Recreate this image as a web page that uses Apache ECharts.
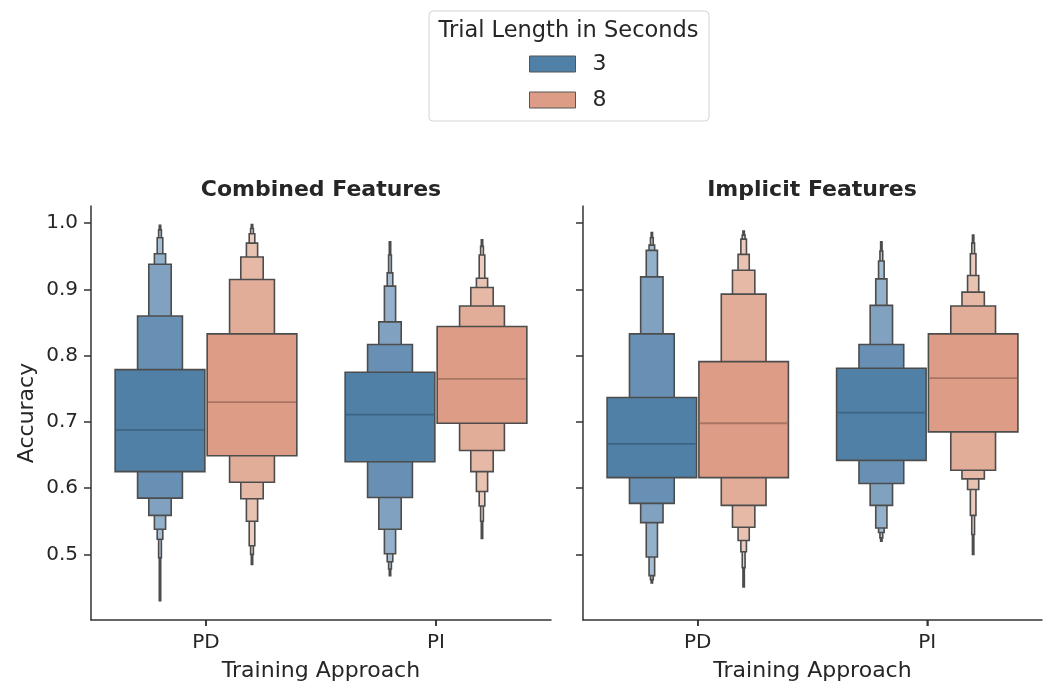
<!DOCTYPE html>
<html>
<head>
<meta charset="utf-8">
<script src="https://cdn.jsdelivr.net/npm/echarts@6/dist/echarts.min.js"></script>
<style>
  html, body { margin: 0; padding: 0; background: #fff; }
  #chart { width: 1046px; height: 684px; }
</style>
</head>
<body>
<div id="chart"></div>
<script>
// categories on the x axis
var categories = ['PD', 'PI'];
var panelTitles = ['Combined Features', 'Implicit Features'];
var trialLengths = ['3', '8'];
var yTicks = [0.5, 0.6, 0.7, 0.8, 0.9, 1.0];

// letter-value boxes: median + nested [low, high] levels, innermost first
var combined3 = [
    {median: 0.688, levels: [[0.625, 0.779], [0.585, 0.860], [0.559, 0.938], [0.538, 0.954], [0.523, 0.978], [0.495, 0.990], [0.430, 0.997]]},
    {median: 0.711, levels: [[0.640, 0.775], [0.586, 0.817], [0.538, 0.851], [0.501, 0.905], [0.489, 0.925], [0.478, 0.952], [0.468, 0.972]]}
];
var combined8 = [
    {median: 0.730, levels: [[0.649, 0.833], [0.609, 0.915], [0.584, 0.949], [0.550, 0.970], [0.513, 0.984], [0.500, 0.992], [0.485, 0.998]]},
    {median: 0.765, levels: [[0.698, 0.844], [0.657, 0.875], [0.625, 0.903], [0.595, 0.917], [0.573, 0.952], [0.550, 0.965], [0.524, 0.975]]}
];
var implicit3 = [
    {median: 0.667, levels: [[0.616, 0.737], [0.577, 0.833], [0.548, 0.919], [0.496, 0.959], [0.468, 0.967], [0.462, 0.978], [0.457, 0.986]]},
    {median: 0.714, levels: [[0.642, 0.781], [0.607, 0.817], [0.574, 0.876], [0.540, 0.916], [0.533, 0.943], [0.525, 0.958], [0.520, 0.972]]}
];
var implicit8 = [
    {median: 0.698, levels: [[0.616, 0.791], [0.574, 0.893], [0.541, 0.929], [0.521, 0.953], [0.504, 0.976], [0.480, 0.982], [0.451, 0.988]]},
    {median: 0.766, levels: [[0.685, 0.833], [0.627, 0.875], [0.614, 0.896], [0.598, 0.921], [0.559, 0.954], [0.530, 0.970], [0.500, 0.982]]}
];

var blueShades = ['#5080a6', '#6890b4', '#80a2c0', '#93b1ca', '#a5bed3', '#b5c9da', '#c3d3e1'];
var salmonShades = ['#dc9c86', '#e1ac98', '#e6b8a6', '#e9c2b2', '#ecccbf', '#efd5ca', '#f1ddd4'];
var edgeColor = '#4c4c4c';
var textColor = '#262626';
var fontFamily = 'DejaVu Sans';

// category i sits in the middle of the unit slot [i, i + 1] of a value axis
var catCenters = categories.map(function (c, i) { return i + 0.5; });

function boxenRender(boxes, offset, shades, medColor, withTick) {
    return function (params, api) {
        var b = boxes[params.dataIndex];
        var xv = api.value(0);
        var band = api.size([1, 0])[0];
        var x0 = api.coord([xv, b.median])[0];
        var cx = x0 + offset * band;
        var w0 = band * 0.39;
        var children = [];
        // outer levels first so the wider inner ones sit on top
        for (var k = b.levels.length - 1; k >= 0; k--) {
            var w = w0 * Math.pow(0.5, k);
            var yTop = api.coord([xv, b.levels[k][1]])[1];
            var yBot = api.coord([xv, b.levels[k][0]])[1];
            children.push({
                type: 'rect',
                shape: {x: cx - w / 2, y: yTop, width: w, height: yBot - yTop},
                style: {fill: shades[k], stroke: edgeColor, lineWidth: 1.6}
            });
        }
        var ym = api.coord([xv, b.median])[1];
        children.push({
            type: 'line',
            shape: {x1: cx - w0 / 2 + 1, y1: ym, x2: cx + w0 / 2 - 1, y2: ym},
            style: {stroke: medColor, lineWidth: 1.8}
        });
        if (withTick) {
            // category tick mark under the x axis
            var yAxisBottom = params.coordSys.y + params.coordSys.height;
            children.push({
                type: 'line',
                shape: {x1: x0, y1: yAxisBottom, x2: x0, y2: yAxisBottom + 6},
                style: {stroke: '#333', lineWidth: 1.5}
            });
        }
        return {type: 'group', children: children};
    };
}

function boxenSeries(name, boxes, axisIdx, offset, shades, medColor, withTick) {
    return {
        name: name,
        type: 'custom',
        clip: false,
        xAxisIndex: axisIdx,
        yAxisIndex: axisIdx,
        itemStyle: {color: shades[0], borderColor: edgeColor, borderWidth: 1},
        renderItem: boxenRender(boxes, offset, shades, medColor, withTick),
        data: boxes.map(function (b, i) { return [catCenters[i], b.median]; })
    };
}

var axisLineStyle = {color: '#333', width: 1.5};

function xAxisFor(idx) {
    return {
        type: 'value',
        gridIndex: idx,
        min: 0,
        max: categories.length,
        splitLine: {show: false},
        axisLine: {show: true, lineStyle: axisLineStyle},
        axisTick: {show: true, length: 6, lineStyle: axisLineStyle, customValues: catCenters},
        axisLabel: {
            customValues: catCenters,
            fontSize: 20, color: textColor, fontFamily: fontFamily, margin: 13,
            formatter: function (v) { return categories[Math.floor(v)]; }
        },
        name: 'Training Approach',
        nameLocation: 'middle',
        nameGap: 40,
        nameTextStyle: {fontSize: 22, color: textColor, fontFamily: fontFamily}
    };
}

function yAxisFor(idx) {
    return {
        type: 'value',
        gridIndex: idx,
        min: 0.401,
        max: 1.026,
        splitLine: {show: false},
        axisLine: {show: true, lineStyle: axisLineStyle},
        axisTick: {show: true, length: 7, lineStyle: axisLineStyle, customValues: yTicks},
        axisLabel: {
            show: idx === 0,
            customValues: yTicks,
            fontSize: 20, color: textColor, fontFamily: fontFamily, margin: 13,
            formatter: function (v) { return v.toFixed(1); }
        },
        name: idx === 0 ? 'Accuracy' : '',
        nameLocation: 'middle',
        nameGap: 53,
        nameTextStyle: {fontSize: 22, color: textColor, fontFamily: fontFamily}
    };
}

var chart = echarts.init(document.getElementById('chart'));
chart.setOption({
    backgroundColor: '#fff',
    animation: false,
    grid: [
        {left: 91, top: 206, width: 460, height: 414, outerBoundsMode: 'none', containLabel: false},
        {left: 583, top: 206, width: 459, height: 414, outerBoundsMode: 'none', containLabel: false}
    ],
    xAxis: [xAxisFor(0), xAxisFor(1)],
    yAxis: [yAxisFor(0), yAxisFor(1)],
    legend: {
        data: trialLengths,
        orient: 'vertical',
        left: 529,
        top: 53,
        padding: 0,
        itemWidth: 46,
        itemHeight: 16,
        itemGap: 14,
        icon: 'rect',
        itemStyle: {borderColor: '#555', borderWidth: 1},
        textStyle: {fontSize: 22, color: textColor, fontFamily: fontFamily, lineHeight: 16, padding: [0, 0, 0, 12]}
    },
    graphic: [
        {
            type: 'rect', z: 10, silent: true,
            shape: {x: 429, y: 11, width: 280, height: 110, r: 4},
            style: {fill: 'none', stroke: '#d4d4d4', lineWidth: 1}
        },
        {
            type: 'text', z: 10,
            style: {x: 568.5, y: 31, text: 'Trial Length in Seconds', align: 'center', verticalAlign: 'middle',
                fontSize: 22.5, fill: textColor, fontFamily: fontFamily}
        },
        {
            type: 'text', z: 10,
            style: {x: 321, y: 190, text: panelTitles[0], align: 'center', verticalAlign: 'middle',
                fontSize: 22, fontWeight: 'bold', fill: textColor, fontFamily: fontFamily}
        },
        {
            type: 'text', z: 10,
            style: {x: 812, y: 190, text: panelTitles[1], align: 'center', verticalAlign: 'middle',
                fontSize: 22, fontWeight: 'bold', fill: textColor, fontFamily: fontFamily}
        }
    ],
    series: [
        boxenSeries('3', combined3, 0, -0.2, blueShades, '#3d6483', true),
        boxenSeries('8', combined8, 0, 0.2, salmonShades, '#a97563', false),
        boxenSeries('3', implicit3, 1, -0.2, blueShades, '#3d6483', true),
        boxenSeries('8', implicit8, 1, 0.2, salmonShades, '#a97563', false)
    ]
});
</script>
</body>
</html>
